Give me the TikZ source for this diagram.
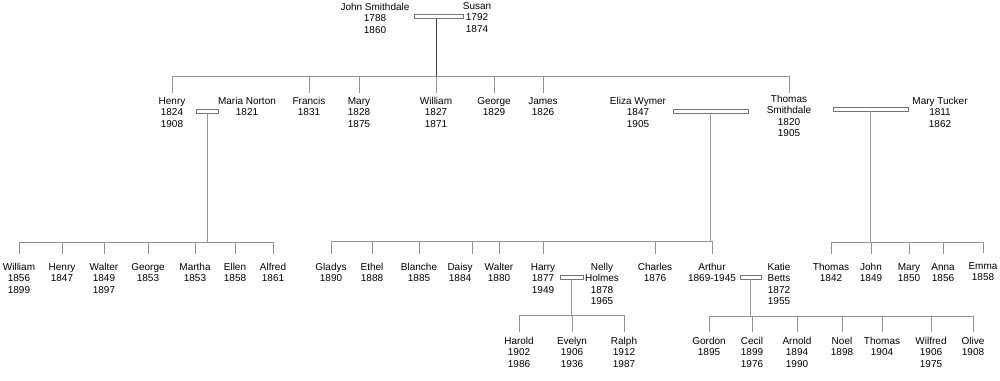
\documentclass[tikz,border=0pt]{standalone}
\usepackage{fontspec}
\setmainfont{Liberation Sans}
\begin{document}
\begin{tikzpicture}[x=1pt,y=-1pt,
  person/.style={anchor=north,align=center,inner sep=0pt,font=\fontsize{10}{11.5}\selectfont},
  bar/.style={draw=black!55,fill=white,line width=0.8pt,inner sep=0pt,minimum height=4pt},
  conn/.style={draw=black!42,line width=1pt},
  drop/.style={draw=black!75,line width=1pt}]
\path[use as bounding box] (0,0) rectangle (1000,380);
% generation 1
\node[person] (john) at (375,3) {John Smithdale\\1788\\1860};
\node[person] (susan) at (477,2) {Susan\\1792\\1874};
\node[bar,minimum width=49pt] (b0) at (438.5,16.3) {};
% generation 2
\node[person] (henry2) at (172,97) {Henry\\1824\\1908};
\node[person] (maria) at (247,97) {Maria Norton\\1821};
\node[person] (francis) at (309,97) {Francis\\1831};
\node[person] (mary2) at (359,97) {Mary\\1828\\1875};
\node[person] (william2) at (436,97) {William\\1827\\1871};
\node[person] (george2) at (494,97) {George\\1829};
\node[person] (james) at (543,97) {James\\1826};
\node[person] (eliza) at (638,97) {Eliza Wymer\\1847\\1905};
\node[person] (thomas2) at (789,95) {Thomas\\Smithdale\\1820\\1905};
\node[person] (marytucker) at (940,97) {Mary Tucker\\1811\\1862};
\node[bar,minimum width=22pt] (b1) at (207.5,111) {};
\node[bar,minimum width=75pt] (b2) at (710.5,111) {};
\node[bar,minimum width=75pt] (b3) at (870.5,109) {};
\coordinate (h1) at (0,76);
\draw[drop] ([xshift=-2.5pt]b0.south) -- ([xshift=-2.5pt]b0.south |- h1);
\draw[conn] (henry2 |- h1) -- (thomas2 |- h1);
\foreach \c in {henry2,francis,mary2,william2,george2,james}
  \draw[conn] ([yshift=4pt]\c.north) -- (\c |- h1);
\draw[conn] ([yshift=2pt]thomas2.north) -- (thomas2 |- h1);
% generation 3 : Henry & Maria
\node[person] (william3) at (19,263) {William\\1856\\1899};
\node[person] (henry3) at (62,263) {Henry\\1847};
\node[person] (walter3) at (104,263) {Walter\\1849\\1897};
\node[person] (george3) at (148,263) {George\\1853};
\node[person] (martha) at (195,263) {Martha\\1853};
\node[person] (ellen) at (235,263) {Ellen\\1858};
\node[person] (alfred) at (273,263) {Alfred\\1861};
\coordinate (h2) at (0,242);
\draw[conn] (b1.south) -- (b1 |- h2);
\draw[conn] (william3 |- h2) -- (alfred |- h2);
\foreach \c in {william3,henry3,walter3,george3,martha,ellen,alfred}
  \draw[conn] ([yshift=9pt]\c.north) -- (\c |- h2);
% generation 3 : Thomas & Eliza
\node[person] (gladys) at (331,263) {Gladys\\1890};
\node[person] (ethel) at (372,263) {Ethel\\1888};
\node[person] (blanche) at (419,263) {Blanche\\1885};
\node[person] (daisy) at (460,263) {Daisy\\1884};
\node[person] (walter4) at (499,263) {Walter\\1880};
\node[person] (harry) at (543,263) {Harry\\1877\\1949};
\node[person] (nelly) at (602,263) {Nelly\\Holmes\\1878\\1965};
\node[person] (charles) at (655,263) {Charles\\1876};
\node[person] (arthur) at (712,263) {Arthur\\1869-1945};
\node[person] (katie) at (779,263) {Katie\\Betts\\1872\\1955};
\node[bar,minimum width=23pt] (b4) at (571.5,277) {};
\node[bar,minimum width=21pt] (b5) at (750.5,277) {};
\coordinate (h3) at (0,241);
\draw[conn] (b2.south) -- (b2 |- h3);
\draw[conn] (gladys |- h3) -- (arthur |- h3);
\foreach \c in {gladys,ethel,blanche,walter4,harry,charles,arthur}
  \draw[conn] ([yshift=9pt]\c.north) -- (\c |- h3);
\draw[conn] ([xshift=12pt,yshift=9pt]daisy.north) -- ([xshift=12pt]daisy |- h3);
% generation 3 : Thomas & Mary Tucker
\node[person] (thomas4) at (831,263) {Thomas\\1842};
\node[person] (john4) at (871,263) {John\\1849};
\node[person] (mary4) at (909,263) {Mary\\1850};
\node[person] (anna) at (943,263) {Anna\\1856};
\node[person] (emma) at (983,262) {Emma\\1858};
\coordinate (h4) at (0,242);
\draw[conn] (b3.south) -- (b3 |- h4);
\draw[conn] (thomas4 |- h4) -- (emma |- h4);
\foreach \c in {thomas4,john4,mary4,anna,emma}
  \draw[conn] ([yshift=9pt]\c.north) -- (\c |- h4);
% generation 4 : Harry & Nelly
\node[person] (harold) at (519,337) {Harold\\1902\\1986};
\node[person] (evelyn) at (572,337) {Evelyn\\1906\\1936};
\node[person] (ralph) at (624,337) {Ralph\\1912\\1987};
\coordinate (h5) at (0,315);
\draw[conn] (b4.south) -- (b4 |- h5);
\draw[conn] (harold |- h5) -- (ralph |- h5);
\foreach \c in {harold,evelyn,ralph}
  \draw[conn] ([yshift=5pt]\c.north) -- (\c |- h5);
% generation 4 : Arthur & Katie
\node[person] (gordon) at (709,337) {Gordon\\1895};
\node[person] (cecil) at (752,337) {Cecil\\1899\\1976};
\node[person] (arnold) at (797,337) {Arnold\\1894\\1990};
\node[person] (noel) at (842,337) {Noel\\1898};
\node[person] (thomas5) at (882,337) {Thomas\\1904};
\node[person] (wilfred) at (931,337) {Wilfred\\1906\\1975};
\node[person] (olive) at (973,337) {Olive\\1908};
\coordinate (h6) at (0,316);
\draw[conn] (b5.south) -- (b5 |- h6);
\draw[conn] (gordon |- h6) -- (olive |- h6);
\foreach \c in {gordon,cecil,arnold,noel,thomas5,wilfred,olive}
  \draw[conn] ([yshift=5pt]\c.north) -- (\c |- h6);
\end{tikzpicture}
\end{document}
